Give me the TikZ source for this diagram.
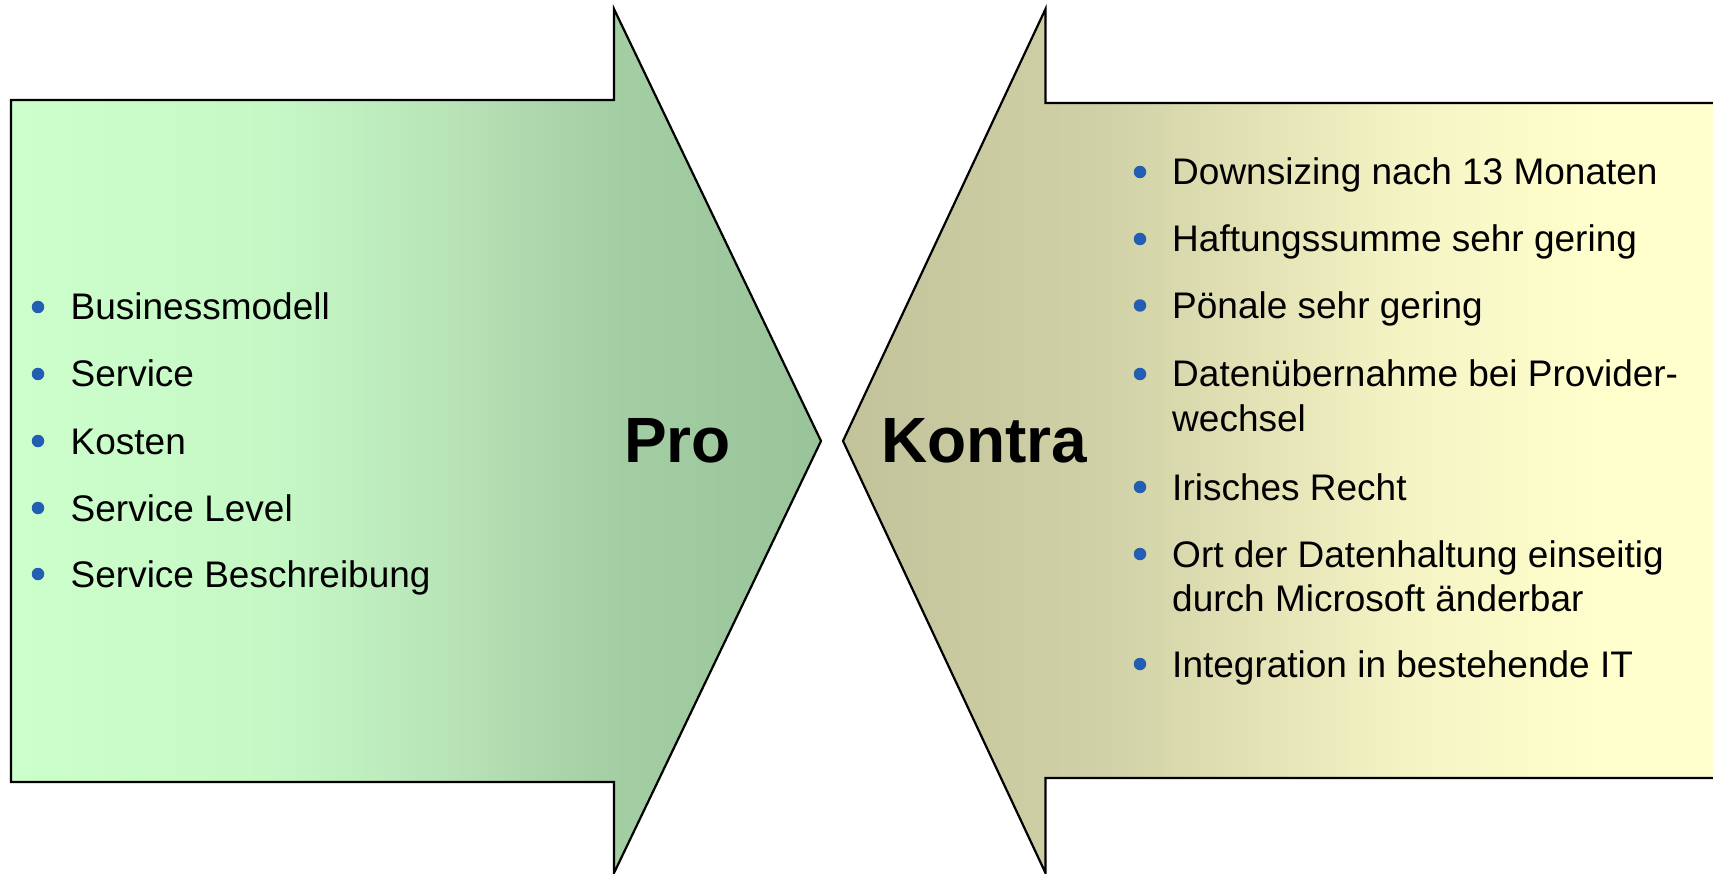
\documentclass[tikz,border=0pt]{standalone}
\usepackage{fontspec}
\setmainfont{Liberation Sans}
\definecolor{proA}{RGB}{204,255,204}
\definecolor{proB}{RGB}{198,248,198}
\definecolor{proM}{RGB}{184,228,184}
\definecolor{proC}{RGB}{164,206,164}
\definecolor{proD}{RGB}{153,196,153}
\definecolor{conA}{RGB}{195,195,155}
\definecolor{conB}{RGB}{209,209,167}
\definecolor{conC}{RGB}{243,243,196}
\definecolor{conD}{RGB}{255,255,205}
\definecolor{bulletblue}{RGB}{36,94,180}
\pgfdeclarehorizontalshading{proshade}{100bp}{color(0bp)=(proA); color(25bp)=(proA); color(41bp)=(proB); color(52bp)=(proM); color(62bp)=(proC); color(75bp)=(proD); color(100bp)=(proD)}
\pgfdeclarehorizontalshading{conshade}{100bp}{color(0bp)=(conA); color(25bp)=(conA); color(40bp)=(conB); color(57bp)=(conC); color(68bp)=(conD); color(100bp)=(conD)}
\tikzset{
  arrowshape/.style={draw=black, line width=2.2pt, line join=miter},
  itemtext/.style={anchor=base west, inner sep=0pt, font=\fontsize{37}{44}\selectfont},
  bul/.style={circle, fill=bulletblue, minimum size=12.5pt, inner sep=0pt},
  bigword/.style={anchor=base west, inner sep=0pt, font=\fontsize{64}{64}\selectfont\bfseries}
}
\begin{document}
\begin{tikzpicture}[x=1pt,y=-1pt]
\useasboundingbox (0,0) rectangle (1713,874);
\clip (0,0) rectangle (1713,874);
% Pro arrow
\path[arrowshape, shading=proshade]
  (11,100) -- (614,100) -- (614,9) -- (821,441) -- (614,873) -- (614,782) -- (11,782) -- cycle;
% Kontra arrow
\path[arrowshape, shading=conshade]
  (1720,103) -- (1045.5,103) -- (1045.5,9) -- (843,441) -- (1045.5,873) -- (1045.5,778) -- (1720,778) -- cycle;
% labels
\node[bigword] (pro) at (624,462) {Pro};
\node[bigword] (kontra) at (881,462) {Kontra};
% left list
\foreach \i/\y/\t in {1/320/Businessmodell, 2/387/Service, 3/454/Kosten, 4/521/Service Level, 5/587/Service Beschreibung}{
  \node[bul] (lb\i) at (38,\y-13) {};
  \node[itemtext] (lt\i) at (70.5,\y) {\t};
}
% right list
\node[bul] (rb1) at (1140,172) {};
\node[itemtext] (rt1) at (1172,185) {Downsizing nach 13 Monaten};
\node[bul] (rb2) at (1140,239) {};
\node[itemtext] (rt2) at (1172,252) {Haftungssumme sehr gering};
\node[bul] (rb3) at (1140,305.5) {};
\node[itemtext] (rt3) at (1172,318.5) {Pönale sehr gering};
\node[bul] (rb4) at (1140,374) {};
\node[itemtext] (rt4) at (1172,387) {Datenübernahme bei Provider-};
\node[itemtext] (rt4b) at (1172,431) {wechsel};
\node[bul] (rb5) at (1140,487) {};
\node[itemtext] (rt5) at (1172,500) {Irisches Recht};
\node[bul] (rb6) at (1140,554) {};
\node[itemtext] (rt6) at (1172,567) {Ort der Datenhaltung einseitig};
\node[itemtext] (rt6b) at (1172,611) {durch Microsoft änderbar};
\node[bul] (rb7) at (1140,664) {};
\node[itemtext] (rt7) at (1172,677) {Integration in bestehende IT};
\end{tikzpicture}
\end{document}
